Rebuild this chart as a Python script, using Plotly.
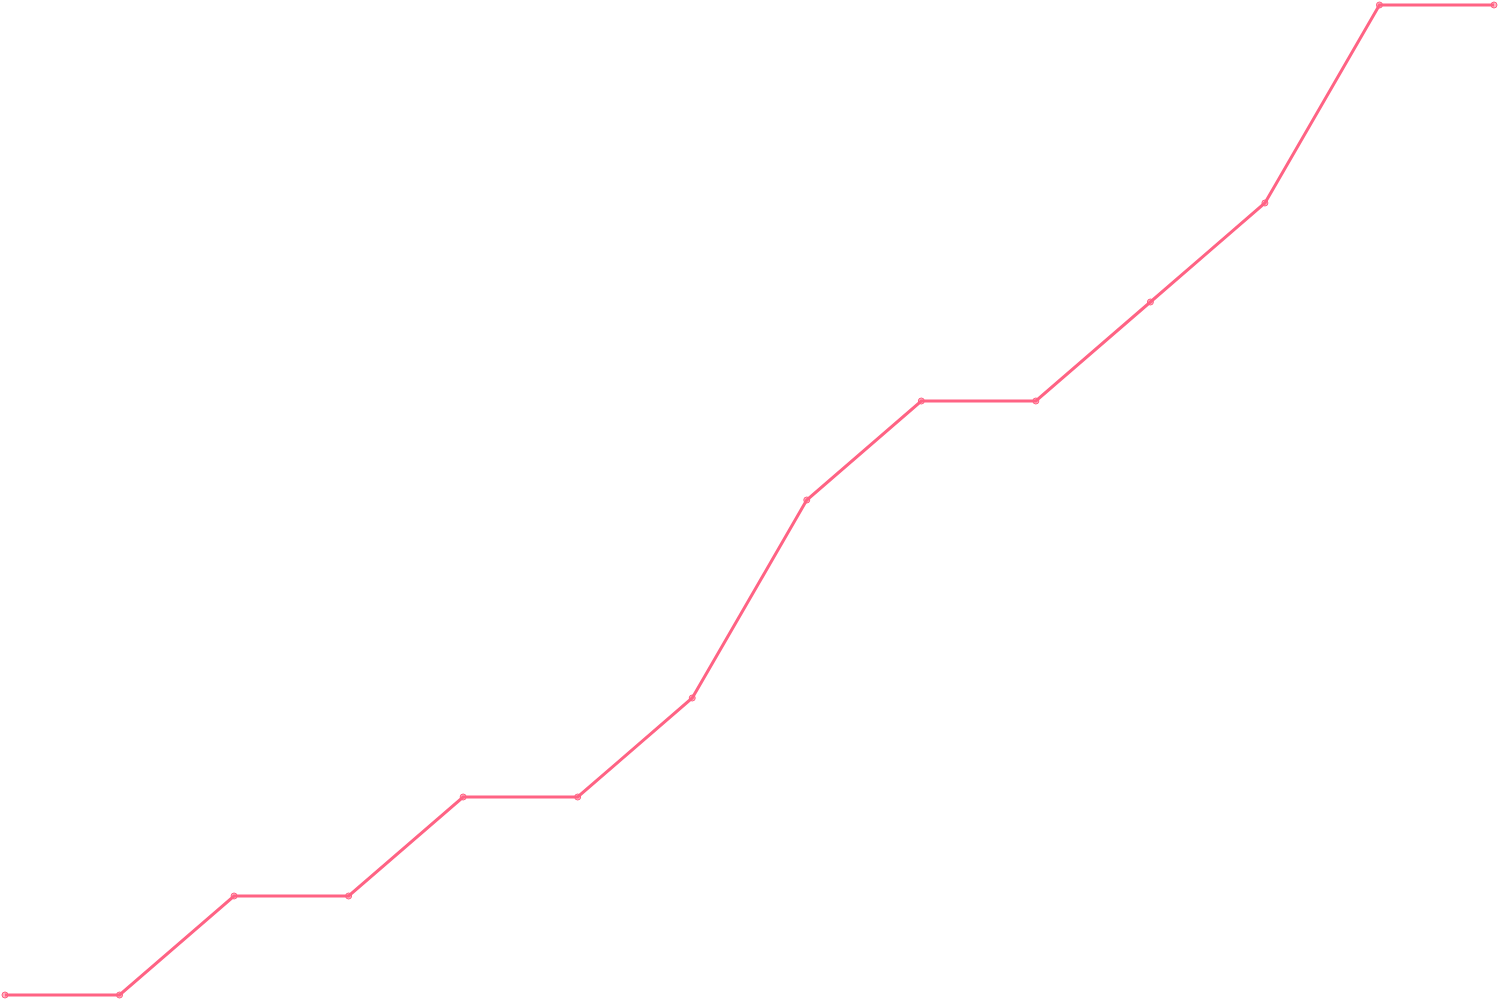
import plotly.graph_objects as go

x_index = list(range(14))
values = [0, 0, 1, 1, 2, 2, 3, 5, 6, 6, 7, 8, 10, 10]

# pad ranges so the plot area fills the page and edge lines are not clipped
xpx = 13 / 1489
ypx = 10 / 990

fig = go.Figure()
fig.add_trace(go.Scatter(
    x=x_index, y=values, mode="lines+markers",
    line=dict(color="#ff6384", width=3),
    marker=dict(size=6, color="rgba(255,99,132,0.5)", line=dict(color="#ff6384", width=1)),
    cliponaxis=False, hoverinfo="skip",
))
fig.update_layout(
    width=1500, height=1000,
    margin=dict(l=0, r=0, t=0, b=0),
    paper_bgcolor="white", plot_bgcolor="white",
    showlegend=False,
    xaxis=dict(visible=False, range=[-5 * xpx, 13 + 6 * xpx], fixedrange=True),
    yaxis=dict(visible=False, range=[-5 * ypx, 10 + 5 * ypx], fixedrange=True),
)
fig.write_html(
    "out.html",
    config={"displayModeBar": False},
    post_script="document.body.style.margin='0';document.body.style.overflow='hidden';",
)
